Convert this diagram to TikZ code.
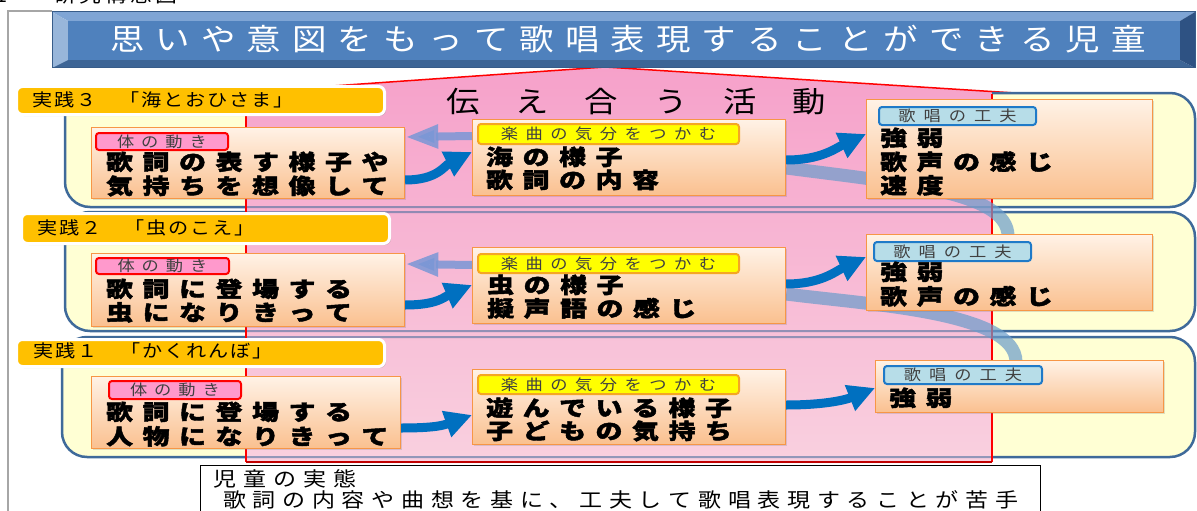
\documentclass[tikz,border=0pt]{standalone}
\usepackage{fontspec}
\usetikzlibrary{arrows.meta,calc,shadows}
\newfontfamily\jp[FakeStretch=1.15]{Noto Sans CJK JP}
\newfontfamily\jpb[FakeStretch=1.25,FakeBold=2]{Noto Sans CJK JP}
\pgfdeclarelayer{bg}
\pgfdeclarelayer{mid}
\pgfsetlayers{bg,mid,main}
\definecolor{boxedge}{HTML}{F79646}
\definecolor{boxtop}{HTML}{FFF2E6}
\definecolor{boxbot}{HTML}{FAC08F}
\definecolor{tagApink}{HTML}{FF99CC}
\definecolor{tagAedge}{HTML}{FF0000}
\definecolor{tagByel}{HTML}{FFFF00}
\definecolor{tagBedge}{HTML}{F5A623}
\definecolor{tagCblue}{HTML}{B7DDE8}
\definecolor{tagCedge}{HTML}{1F7AC8}
\definecolor{tagtext}{HTML}{404040}
\definecolor{labfill}{HTML}{FFC000}
\definecolor{rowfill}{HTML}{FFFFD4}
\definecolor{rowedge}{HTML}{3F6A9A}
\definecolor{pinkA}{HTML}{F6A1CA}
\definecolor{pinkB}{HTML}{F7ABD0}
\definecolor{pinkC}{HTML}{F9D0DF}
\definecolor{arrowblue}{HTML}{0070C0}
\definecolor{lav}{HTML}{7A97D6}
\definecolor{bandc}{HTML}{6A9CCB}
\definecolor{framegray}{HTML}{A6A6A6}
\definecolor{bnface}{HTML}{4F81BD}
\definecolor{bntop}{HTML}{7FA5D5}
\definecolor{bnleft}{HTML}{98B6DA}
\definecolor{bnbot}{HTML}{3D6596}
\definecolor{bnright}{HTML}{2E5283}
\definecolor{bnedge}{HTML}{385D8A}
\definecolor{darkred}{HTML}{C00000}
\newdimen\lsd
\def\ls#1#2{\lsd=#1\relax\lsfirst#2\relax}
\def\lsfirst#1{#1\lsloop}
\def\lsloop#1{\ifx\relax#1\else\kern\lsd#1\expandafter\lsloop\fi}
\tikzset{
  obox/.style={draw=boxedge, line width=1.2pt, top color=boxtop, bottom color=boxbot,
    anchor=north west, inner sep=0pt,
    drop shadow={opacity=.25,shadow xshift=1.5pt,shadow yshift=-1.5pt}},
  tagbase/.style={anchor=north west, inner sep=0pt, rounded corners=3pt, line width=2pt,
    text=tagtext, font=\jp\fontsize{15}{15}\selectfont},
  tagA/.style={tagbase, draw=tagAedge, fill=tagApink},
  tagB/.style={tagbase, draw=tagBedge, fill=tagByel},
  tagC/.style={tagbase, draw=tagCedge, fill=tagCblue},
  btxt/.style={anchor=base west, inner sep=0pt, font=\jpb\bfseries\fontsize{21.5}{21.5}\selectfont},
  labbox/.style={anchor=north west, inner sep=0pt, fill=labfill, draw=white, line width=3pt,
    rounded corners=6pt, drop shadow={opacity=.3,shadow xshift=1.5pt,shadow yshift=-1.5pt}},
  labtxt/.style={anchor=base west, inner sep=0pt, font=\jp\fontsize{17.5}{17.5}\selectfont},
  rowshape/.style={rounded corners=25pt},
  barrow/.style={draw=arrowblue, line width=9pt, -{Triangle[length=27pt,width=26pt]}},
  larrow/.style={draw=lav, line width=8pt, opacity=.85, -{Triangle[length=33pt,width=22pt]}},
  band/.style={draw=bandc, line width=13pt, opacity=.7},
}
\begin{document}
\begin{tikzpicture}[x=1pt,y=-1pt]
\useasboundingbox (0,0) rectangle (1197,511);

\begin{pgfonlayer}{bg}
% frame and heading
\draw[framegray, line width=1.5pt] (8,511) -- (8,11) -- (52,11);
\node[anchor=base west, inner sep=0pt, font=\jp\fontsize{19}{19}\selectfont] (num) at (-5,3) {1};
\node[anchor=base west, inner sep=0pt, font=\jp\fontsize{19}{19}\selectfont] (head) at (54,3) {\ls{3.5pt}{研究構想図}};
% pink area
\shade[top color=pinkA, middle color=pinkB, bottom color=pinkC]
  (246,463) -- (246,92) -- (605,67) -- (1094,98) -- (992,100) -- (992,463) -- cycle;
\draw[red, line width=1.5pt] (246,92) -- (605,67) -- (1094,98);
% rows fill outside the pink window
\begin{scope}
  \clip (0,0) rectangle (246,511) (992,0) rectangle (1197,511);
  \fill[rowfill, rowshape] (65,93) rectangle (1195,207);
  \fill[rowfill, rowshape] (65,212) rectangle (1195,331);
  \fill[rowfill, rowshape] (62,337) rectangle (1195,457);
\end{scope}
\begin{scope}
  \clip (0,0) rectangle (246,511) (992,0) rectangle (1197,511);
  \draw[rowedge, line width=2.5pt, rowshape] (65,93) rectangle (1195,207);
  \draw[rowedge, line width=2.5pt, rowshape] (65,212) rectangle (1195,331);
  \draw[rowedge, line width=2.5pt, rowshape] (62,337) rectangle (1195,457);
\end{scope}
\begin{scope}
  \clip (246,100) rectangle (992,511);
  \draw[rowedge, line width=2pt, opacity=.55, rowshape] (65,93) rectangle (1195,207);
  \draw[rowedge, line width=2pt, opacity=.55, rowshape] (65,212) rectangle (1195,331);
  \draw[rowedge, line width=2pt, opacity=.55, rowshape] (62,337) rectangle (1195,457);
\end{scope}
\draw[red, line width=1.5pt] (246,92) -- (246,462);
\draw[red, line width=1.5pt] (992,94) -- (992,462);
\draw[darkred, line width=2pt] (246,462) -- (992,462);
\end{pgfonlayer}

% title banner
\fill[bntop] (52,12) -- (1195,12) -- (1180,21) -- (68,21) -- cycle;
\fill[bnleft] (52,12) -- (68,21) -- (68,60) -- (52,68) -- cycle;
\fill[bnbot] (52,68) -- (68,60) -- (1180,60) -- (1195,68) -- cycle;
\fill[bnright] (1195,12) -- (1180,21) -- (1180,60) -- (1195,68) -- cycle;
\fill[bnface] (68,21) rectangle (1180,60);
\draw[bnedge, line width=1pt] (52,12) rectangle (1195,68);
\node[anchor=base west, inner sep=0pt, text=white, font=\jp\fontsize{30}{30}\selectfont] (title) at (110,51)
  {\ls{11pt}{思いや意図をもって歌唱表現することができる児童}};

% activity heading
\node[anchor=base west, inner sep=0pt, font=\jp\fontsize{29}{29}\selectfont] (act) at (446,112.5) {\ls{36pt}{伝え合う活動}};

% practice labels
\node[labbox, minimum width=368pt, minimum height=28pt] (L3) at (15,85) {};
\node[labtxt] (L3t) at (32,106.5) {\ls{1.8pt}{実践３　「海とおひさま」}};
\node[labbox, minimum width=368pt, minimum height=30pt] (L2) at (20,212) {};
\node[labtxt] (L2t) at (37,234) {\ls{1.8pt}{実践２　「虫のこえ」}};
\node[labbox, minimum width=368pt, minimum height=27pt] (L1) at (15,338) {};
\node[labtxt] (L1t) at (33,357) {\ls{1.8pt}{実践１　「かくれんぼ」}};

% row 3 boxes
\node[obox, minimum width=313pt, minimum height=71pt] (A3) at (91,127) {};
\node[tagA, minimum width=132pt, minimum height=17pt] (tA3) at (95,132) {\ls{7pt}{体の動き}};
\node[btxt] (A3a) at (106,170) {\ls{9.6pt}{歌詞の表す様子や}};
\node[btxt] (A3b) at (106,194) {\ls{9.6pt}{気持ちを想像して}};
\node[obox, minimum width=313pt, minimum height=76pt] (B3) at (472,119) {};
\node[tagB, minimum width=261pt, minimum height=20pt] (tB3) at (477,123) {\ls{7.5pt}{楽曲の気分をつかむ}};
\node[btxt] (B3a) at (486,165) {\ls{9.6pt}{海の様子}};
\node[btxt] (B3b) at (486,188) {\ls{9.6pt}{歌詞の内容}};
\node[obox, minimum width=286pt, minimum height=99pt] (C3) at (866,99) {};
\node[tagC, minimum width=157pt, minimum height=18pt] (tC3) at (878,106) {\ls{8pt}{歌唱の工夫}};
\node[btxt] (C3a) at (880,146) {\ls{9.6pt}{強弱}};
\node[btxt] (C3b) at (880,170) {\ls{9.6pt}{歌声の感じ}};
\node[btxt] (C3c) at (880,193.5) {\ls{9.6pt}{速度}};

% row 2 boxes
\node[obox, minimum width=313pt, minimum height=73pt] (A2) at (91,253) {};
\node[tagA, minimum width=133pt, minimum height=16pt] (tA2) at (95,257) {\ls{7pt}{体の動き}};
\node[btxt] (A2a) at (106,297) {\ls{9.6pt}{歌詞に登場する}};
\node[btxt] (A2b) at (106,320.5) {\ls{9.6pt}{虫になりきって}};
\node[obox, minimum width=313pt, minimum height=76pt] (B2) at (472,247) {};
\node[tagB, minimum width=261pt, minimum height=19pt] (tB2) at (477,253) {\ls{7.5pt}{楽曲の気分をつかむ}};
\node[btxt] (B2a) at (487,293) {\ls{9.6pt}{虫の様子}};
\node[btxt] (B2b) at (487,316.5) {\ls{9.6pt}{擬声語の感じ}};
\node[obox, minimum width=286pt, minimum height=76pt] (C2) at (866,234) {};
\node[tagC, minimum width=157pt, minimum height=19pt] (tC2) at (873,241) {\ls{8pt}{歌唱の工夫}};
\node[btxt] (C2a) at (880,280) {\ls{9.6pt}{強弱}};
\node[btxt] (C2b) at (880,304.5) {\ls{9.6pt}{歌声の感じ}};

% row 1 boxes
\node[obox, minimum width=309pt, minimum height=72pt] (A1) at (91,376) {};
\node[tagA, minimum width=132pt, minimum height=18pt] (tA1) at (108,380) {\ls{7pt}{体の動き}};
\node[btxt] (A1a) at (106,420) {\ls{9.6pt}{歌詞に登場する}};
\node[btxt] (A1b) at (106,444.5) {\ls{9.6pt}{人物になりきって}};
\node[obox, minimum width=313pt, minimum height=75pt] (B1) at (472,369) {};
\node[tagB, minimum width=261pt, minimum height=19pt] (tB1) at (477,374) {\ls{7.5pt}{楽曲の気分をつかむ}};
\node[btxt] (B1a) at (486,416) {\ls{9.6pt}{遊んでいる様子}};
\node[btxt] (B1b) at (486,439) {\ls{9.6pt}{子どもの気持ち}};
\node[obox, minimum width=288pt, minimum height=52pt] (C1) at (875,360) {};
\node[tagC, minimum width=158pt, minimum height=18pt] (tC1) at (883,365) {\ls{8pt}{歌唱の工夫}};
\node[btxt] (C1a) at (889,406) {\ls{9.6pt}{強弱}};

% bands between practices (behind boxes)
\begin{pgfonlayer}{mid}
\draw[band] ($(B3.north east)+(0,49)$) .. controls +(115,15) and +(0,-44) .. ($(C2.north west)+(142,2)$);
\draw[band] ($(B2.north east)+(0,47)$) .. controls +(85,11) and +(0,-50) .. ($(C1.north west)+(141,2)$);
\end{pgfonlayer}

% arrows
\draw[larrow] ($(B3.north west)+(0,17)$) -- ($(A3.north east)+(0,10)$);
\draw[larrow] ($(B2.north west)+(0,18)$) -- ($(A2.north east)+(0,11)$);
\draw[barrow] ($(A3.north east)+(0,53)$) .. controls +(32,0) and +(-28,14) .. ($(B3.north west)+(0,33)$);
\draw[barrow] ($(A2.north east)+(0,52)$) .. controls +(32,0) and +(-28,12) .. ($(B2.north west)+(0,38)$);
\draw[barrow] ($(A1.north east)+(0,52)$) .. controls +(35,0) and +(-28,10) .. ($(B1.north west)+(0,46)$);
\draw[barrow] ($(B3.north east)+(0,41)$) .. controls +(35,0) and +(-30,14) .. ($(C3.north west)+(0,35)$);
\draw[barrow] ($(B2.north east)+(0,37)$) .. controls +(35,0) and +(-30,14) .. ($(C2.north west)+(0,23)$);
\draw[barrow] ($(B1.north east)+(0,36)$) .. controls +(38,0) and +(-30,12) .. ($(C1.north west)+(0,28)$);

% children's state box
\node[anchor=north west, draw=black, line width=1pt, fill=white, inner sep=0pt,
  minimum width=840pt, minimum height=60pt] (state) at (200,465) {};
\node[anchor=base west, inner sep=0pt, font=\jp\fontsize{20}{20}\selectfont] (st1) at (213,486) {\ls{7pt}{児童の実態}};
\node[anchor=base west, inner sep=0pt, font=\jp\fontsize{20}{20}\selectfont] (st2) at (223,507) {\ls{6.7pt}{歌詞の内容や曲想を基に、工夫して歌唱表現することが苦手}};
\end{tikzpicture}
\end{document}
